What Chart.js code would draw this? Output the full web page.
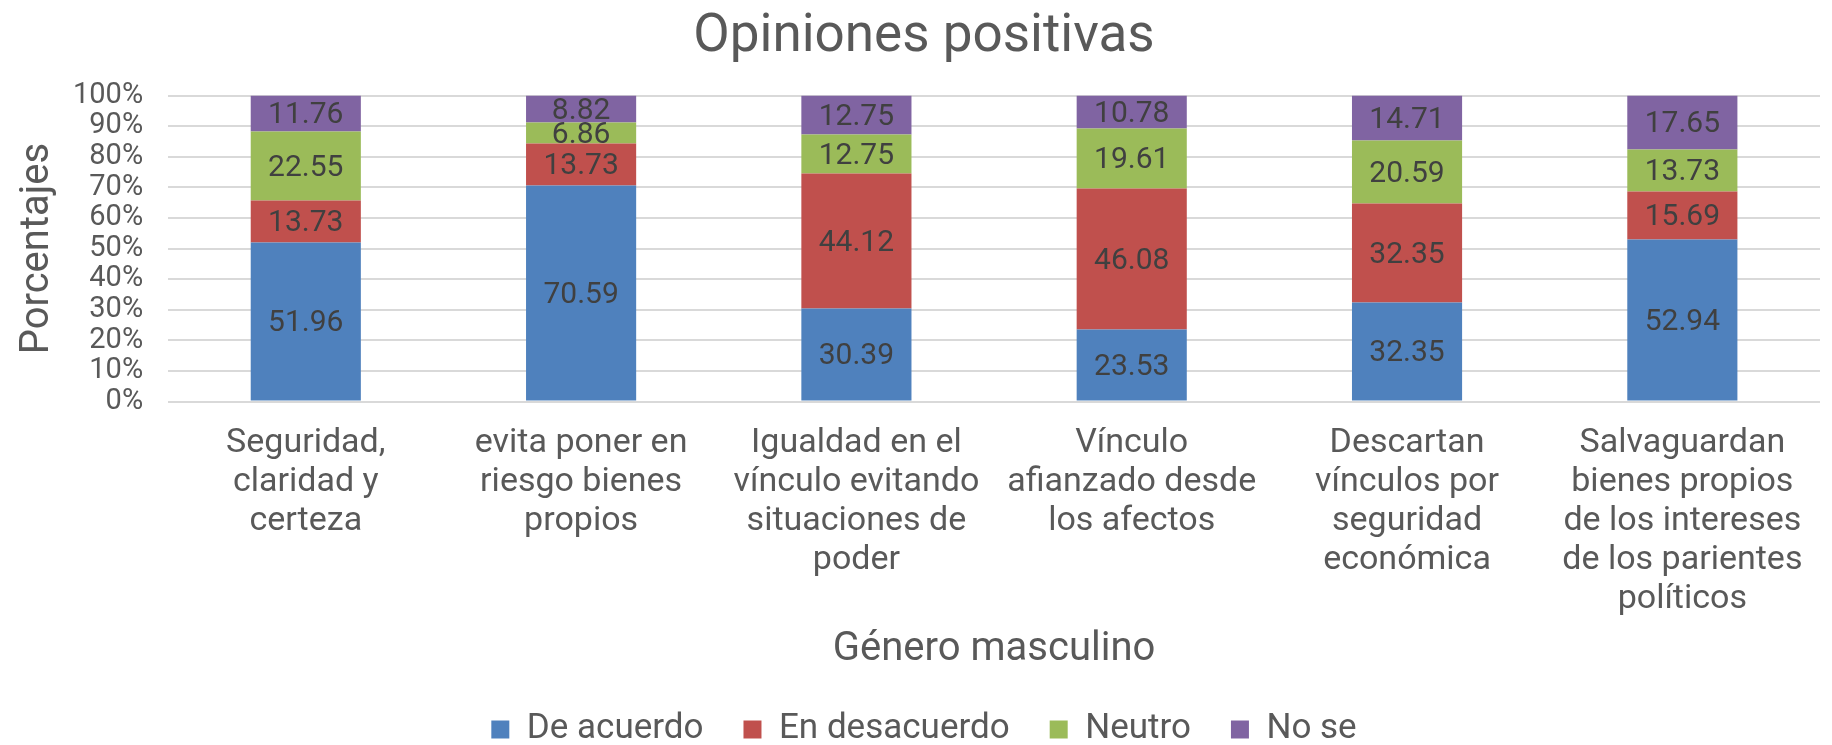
<!DOCTYPE html>
<html>
<head>
<meta charset="utf-8">
<script src="https://cdn.jsdelivr.net/npm/chart.js@4"></script>
<style>
  html, body { margin: 0; padding: 0; background: #fff; }
  #wrap { width: 1832px; height: 745px; }
</style>
</head>
<body>
<div id="wrap"><canvas id="chart" width="1832" height="745"></canvas></div>
<script>
const categories = [
  ["Seguridad,", "claridad y", "certeza"],
  ["evita poner en", "riesgo bienes", "propios"],
  ["Igualdad en el", "vínculo evitando", "situaciones de", "poder"],
  ["Vínculo", "afianzado desde", "los afectos"],
  ["Descartan", "vínculos por", "seguridad", "económica"],
  ["Salvaguardan", "bienes propios", "de los intereses", "de los parientes", "políticos"],
];
const seriesNames = ["De acuerdo", "En desacuerdo", "Neutro", "No se"];
const deAcuerdo = [51.96, 70.59, 30.39, 23.53, 32.35, 52.94];
const enDesacuerdo = [13.73, 13.73, 44.12, 46.08, 32.35, 15.69];
const neutro = [22.55, 6.86, 12.75, 19.61, 20.59, 13.73];
const noSe = [11.76, 8.82, 12.75, 10.78, 14.71, 17.65];
const colors = ["#4F81BD", "#C0504D", "#9BBB59", "#8064A2"];

const FONT = "Roboto, 'Open Sans', sans-serif";
const TEXT = "#595959";

// draws the value in the middle of every bar segment
const segmentLabels = {
  id: "segmentLabels",
  afterDatasetsDraw(chart) {
    const ctx = chart.ctx;
    ctx.save();
    ctx.font = `30px ${FONT}`;
    ctx.fillStyle = "#404040";
    ctx.textAlign = "center";
    ctx.textBaseline = "middle";
    chart.data.datasets.forEach((ds, i) => {
      const meta = chart.getDatasetMeta(i);
      meta.data.forEach((bar, j) => {
        const y = (bar.y + bar.base) / 2 + 2;
        ctx.fillText(ds.data[j].toFixed(2), bar.x, y);
      });
    });
    ctx.restore();
  },
};

const seriesValues = [deAcuerdo, enDesacuerdo, neutro, noSe];

new Chart(document.getElementById("chart"), {
  type: "bar",
  data: {
    labels: categories,
    datasets: seriesNames.map((name, i) => ({
      label: name,
      data: seriesValues[i],
      backgroundColor: colors[i],
      borderWidth: 0,
      categoryPercentage: 0.8,
      barPercentage: 0.5,
    })),
  },
  options: {
    responsive: false,
    animation: false,
    layout: { padding: { left: 28, right: 12, top: 6, bottom: -12 } },
    plugins: {
      title: {
        display: true,
        text: "Opiniones positivas",
        color: TEXT,
        font: { family: FONT, size: 53, weight: "normal" },
        padding: { top: 0, bottom: 26 },
      },
      legend: {
        position: "bottom",
        labels: {
          color: TEXT,
          font: { family: FONT, size: 35 },
          boxWidth: 18,
          boxHeight: 18,
          padding: 40,
        },
      },
      tooltip: { enabled: false },
    },
    scales: {
      x: {
        stacked: true,
        grid: { display: false, drawTicks: false },
        border: { display: false },
        ticks: {
          color: TEXT,
          font: { family: FONT, size: 34, lineHeight: 1.15 },
          maxRotation: 0,
          autoSkip: false,
          padding: 22,
        },
        title: {
          display: true,
          text: "Género masculino",
          color: TEXT,
          font: { family: FONT, size: 40, lineHeight: 1 },
          padding: { top: -11, bottom: 2 },
        },
      },
      y: {
        stacked: true,
        min: 0,
        max: 100,
        grid: { color: "#D9D9D9", lineWidth: 2, drawTicks: false },
        border: { display: false },
        ticks: {
          stepSize: 10,
          autoSkip: false,
          color: TEXT,
          font: { family: FONT, size: 29 },
          padding: 25,
          callback: (v) => v + "%",
        },
        title: {
          display: true,
          text: "Porcentajes",
          color: TEXT,
          font: { family: FONT, size: 40, lineHeight: 0.5 },
          padding: { top: 0, bottom: 0 },
        },
      },
    },
  },
  plugins: [segmentLabels],
});
</script>
</body>
</html>
